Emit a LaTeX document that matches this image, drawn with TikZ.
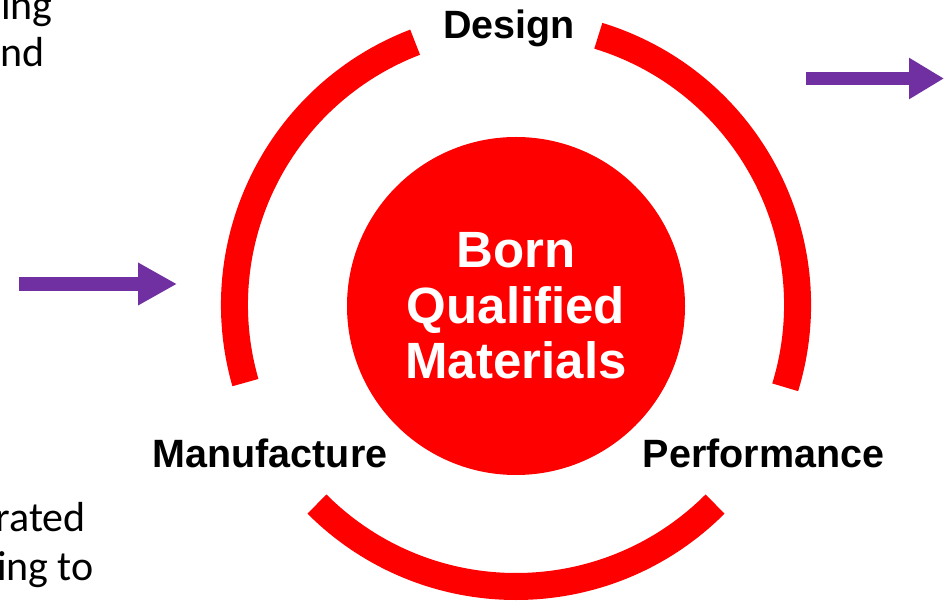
\documentclass[tikz,border=0pt]{standalone}
\usepackage{fontspec}
\setmainfont{Liberation Sans}
\newfontfamily\notesfont{Carlito}
\usetikzlibrary{arrows.meta}
\definecolor{ringred}{rgb}{1.0,0.0,0.0}
\definecolor{flowpurple}{rgb}{0.44,0.19,0.63}
\begin{document}
\begin{tikzpicture}[line join=bevel,
  ringarc/.style={draw=ringred,line width=27bp},
  stagelabel/.style={font=\fontsize{39.5bp}{46bp}\bfseries\selectfont,inner sep=0pt,anchor=base},
  notetext/.style={font=\notesfont\fontsize{42bp}{48bp}\selectfont,inner sep=0pt,anchor=base east},
  flowarrow/.style={draw=flowpurple,line width=13.5bp}]
  \useasboundingbox (0bp,0bp) rectangle (944bp,603bp);
  \clip (0bp,0bp) rectangle (944bp,603bp);
  \coordinate (hub) at (516bp,298bp);
%%
  % Node: bqm
  \node[circle,fill=ringred,minimum size=338bp,inner sep=0pt,text=white,align=center,
    font=\fontsize{51bp}{55.5bp}\bfseries\selectfont] (bqm) at (516bp,297bp) {Born\\Qualified\\Materials};
  % Node: design
  \node[stagelabel] (design) at (509bp,564bp) {Design};
  % Node: manufacture
  \node[stagelabel] (manufacture) at (270bp,135bp) {Manufacture};
  % Node: performance
  \node[stagelabel] (performance) at (763.5bp,135bp) {Performance};
  % Arc: design -> manufacture
  \draw[ringarc] ([shift={(111:281.5bp)}]hub) arc[start angle=111,end angle=196,radius=281.5bp];
  % Arc: manufacture -> performance
  \draw[ringarc] ([shift={(225:281.5bp)}]hub) arc[start angle=225,end angle=315,radius=281.5bp];
  % Arc: performance -> design
  \draw[ringarc] ([shift={(343:281.5bp)}]hub) arc[start angle=343,end angle=433,radius=281.5bp];
%%
  % Node: side notes
  \node[notetext] (notea) at (53bp,583bp) {ing};
  \node[notetext] (noteb) at (45bp,536bp) {nd};
  \node[notetext] (notec) at (86bp,71bp) {rated};
  \node[notetext] (noted) at (94bp,23bp) {ing to};
  % Edge: inflow -> ring
  \coordinate (inflowtail) at (19bp,319bp);
  \coordinate (inflowtip) at (177bp,319bp);
  \draw[flowarrow,-{Triangle[length=39bp,width=40bp]}] (inflowtail) -- (inflowtip);
  % Edge: ring -> outflow
  \coordinate (outflowtail) at (806bp,524.5bp);
  \coordinate (outflowtip) at (944bp,524.5bp);
  \draw[flowarrow,-{Triangle[length=35bp,width=39bp]}] (outflowtail) -- (outflowtip);
%
\end{tikzpicture}
\end{document}
